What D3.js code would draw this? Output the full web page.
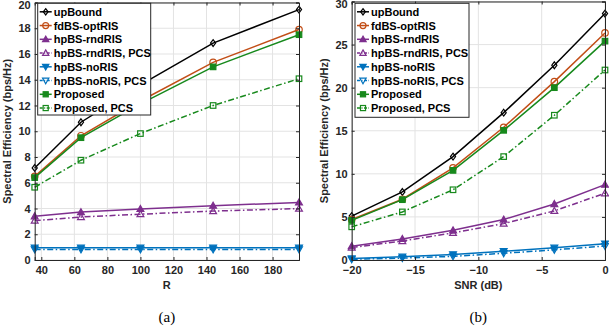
<!DOCTYPE html>
<html><head><meta charset="utf-8">
<script src="https://cdn.jsdelivr.net/npm/d3@7"></script>
<style>body{margin:0;background:#fff}svg{display:block}</style>
</head><body>
<svg id="c" width="609" height="332"></svg>
<script>
// ---- data ----
const seriesNames = ["upBound","fdBS-optRIS","hpBS-rndRIS","hpBS-rndRIS, PCS","hpBS-noRIS","hpBS-noRIS, PCS","Proposed","Proposed, PCS"];
const xR = [36, 64, 100, 144, 196];
const yR_upBound   = [7.15, 10.7, 13.6, 16.85, 19.45];
const yR_fdBS      = [6.5, 9.65, 12.35, 15.35, 17.9];
const yR_rnd       = [3.4, 3.72, 3.97, 4.22, 4.47];
const yR_rndPCS    = [3.06, 3.34, 3.56, 3.8, 3.99];
const yR_noRIS     = [0.95, 0.95, 0.95, 0.95, 0.95];
const yR_noRISPCS  = [0.82, 0.82, 0.82, 0.82, 0.82];
const yR_prop      = [6.4, 9.5, 12.13, 15.0, 17.5];
const yR_propPCS   = [5.65, 7.75, 9.82, 12.0, 14.08];

const xS = [-20, -16, -12, -8, -4, 0];
const yS_upBound   = [5.1, 7.9, 12.0, 17.1, 22.6, 28.6];
const yS_fdBS      = [4.7, 7.05, 10.7, 15.4, 20.7, 26.35];
const yS_rnd       = [1.6, 2.45, 3.45, 4.7, 6.5, 8.75];
const yS_rndPCS    = [1.45, 2.2, 3.15, 4.22, 5.7, 7.75];
const yS_noRIS     = [0.18, 0.38, 0.65, 1.02, 1.42, 1.9];
const yS_noRISPCS  = [0.08, 0.22, 0.42, 0.78, 1.18, 1.62];
const yS_prop      = [4.6, 7.0, 10.4, 15.05, 20.0, 25.4];
const yS_propPCS   = [3.85, 5.58, 8.15, 12.0, 16.8, 22.05];

const xTicksR = [40, 60, 80, 100, 120, 140, 160, 180];
const yTicksR = [0, 2, 4, 6, 8, 10, 12, 14, 16, 18, 20];
const xTicksS = [-20, -15, -10, -5, 0];
const yTicksS = [0, 5, 10, 15, 20, 25, 30];

// ---- styles ----
const styles = [
  {color:"#000000", marker:"diamond", fill:false, dash:null},
  {color:"#C24E17", marker:"circle", fill:false, dash:null},
  {color:"#7E2F8E", marker:"triUp", fill:true, dash:null},
  {color:"#7E2F8E", marker:"triUp", fill:false, dash:"6,2.5,1.5,2.5"},
  {color:"#0072BD", marker:"triDown", fill:true, dash:null},
  {color:"#0072BD", marker:"triDown", fill:false, dash:"6,2.5,1.5,2.5"},
  {color:"#17891C", marker:"square", fill:true, dash:null},
  {color:"#17891C", marker:"square", fill:false, dash:"6,2.5,1.5,2.5"}
];

const svg = d3.select("#c");
const FONT = "'Liberation Sans', Arial, Helvetica, sans-serif";

function marker(g, type, x, y, s, color, fill) {
  let p;
  const r = s/2;
  if (type === "circle") {
    p = g.append("circle").attr("cx", x).attr("cy", y).attr("r", r);
  } else if (type === "square") {
    const h = r*0.85;
    p = g.append("rect").attr("x", x-h).attr("y", y-h).attr("width", 2*h).attr("height", 2*h);
  } else if (type === "diamond") {
    const h = r*1.05;
    p = g.append("path").attr("d", `M${x},${y-h}L${x+h*0.75},${y}L${x},${y+h}L${x-h*0.75},${y}Z`);
  } else if (type === "triUp") {
    const h = r*1.05;
    p = g.append("path").attr("d", `M${x},${y-h}L${x+h},${y+h*0.75}L${x-h},${y+h*0.75}Z`);
  } else if (type === "triDown") {
    const h = r*1.05;
    p = g.append("path").attr("d", `M${x},${y+h}L${x+h},${y-h*0.75}L${x-h},${y-h*0.75}Z`);
  }
  p.attr("stroke", color).attr("stroke-width", 1.2).attr("fill", fill ? color : "none");
}

function panel(opt) {
  const {x0, x1, y0, y1, xDom, yDom, xTicks, yTicks, xs, ys, xLabel, yLabel, yLabelX, caption, legend} = opt;
  const x = d3.scaleLinear().domain(xDom).range([x0, x1]);
  const y = d3.scaleLinear().domain(yDom).range([y1, y0]);
  const g = svg.append("g");
  g.append("rect").attr("x", x0).attr("y", y0).attr("width", x1-x0).attr("height", y1-y0).attr("fill", "#fff");
  // grid
  g.append("g").selectAll("line").data(xTicks).join("line")
    .attr("x1", d=>x(d)).attr("x2", d=>x(d)).attr("y1", y0).attr("y2", y1)
    .attr("stroke", "#e3e3e3").attr("stroke-width", 1);
  g.append("g").selectAll("line").data(yTicks).join("line")
    .attr("y1", d=>y(d)).attr("y2", d=>y(d)).attr("x1", x0).attr("x2", x1)
    .attr("stroke", "#e3e3e3").attr("stroke-width", 1);

  // series
  const line = d3.line().x((d,i)=>x(xs[i])).y(d=>y(d));
  ys.forEach((vals, k) => {
    const st = styles[k];
    g.append("path").datum(vals).attr("d", line).attr("fill", "none")
      .attr("stroke", st.color).attr("stroke-width", 1.5)
      .attr("stroke-dasharray", st.dash);
    vals.forEach((v,i) => marker(g, st.marker, x(xs[i]), y(v), 6.5, st.color, st.fill));
  });

  // axes
  const axB = d3.axisBottom(x).tickValues(xTicks).tickSize(-3).tickPadding(6);
  const axL = d3.axisLeft(y).tickValues(yTicks).tickSize(-3).tickPadding(4);
  const axT = d3.axisTop(x).tickValues(xTicks).tickSize(-3).tickFormat("");
  const axR = d3.axisRight(y).tickValues(yTicks).tickSize(-3).tickFormat("");
  const styleAx = a => {
    a.select(".domain").attr("stroke", "#262626").attr("stroke-width", 1);
    a.selectAll(".tick line").attr("stroke", "#262626");
    a.selectAll("text").attr("fill", "#262626").style("font-family", FONT)
      .style("font-size", "11px").style("font-weight", "bold");
  };
  svg.append("g").attr("transform", `translate(0,${y1})`).call(axB).call(styleAx);
  const gl = svg.append("g").attr("transform", `translate(${x0},0)`).call(axL).call(styleAx);
  // keep the topmost tick label inside the picture
  gl.selectAll(".tick text").filter(d => y(d) < 6).attr("dy", "0.55em");
  svg.append("g").attr("transform", `translate(0,${y0})`).call(axT).call(styleAx);
  svg.append("g").attr("transform", `translate(${x1},0)`).call(axR).call(styleAx);

  // labels
  svg.append("text").attr("x", (x0+x1)/2).attr("y", y1+29).attr("text-anchor", "middle")
    .style("font-family", FONT).style("font-size", "11px").style("font-weight", "bold").attr("fill", "#262626")
    .text(xLabel);
  svg.append("text").attr("transform", `translate(${yLabelX},${(y0+y1)/2}) rotate(-90)`).attr("text-anchor", "middle")
    .style("font-family", FONT).style("font-size", "11px").style("font-weight", "bold").attr("fill", "#262626")
    .text(yLabel);
  svg.append("text").attr("x", (x0+x1)/2).attr("y", 322).attr("text-anchor", "middle")
    .style("font-family", "'Liberation Serif', 'Times New Roman', serif").style("font-size", "15px").attr("fill", "#000")
    .text(caption);

  // legend
  const L = legend;
  const lg = svg.append("g");
  lg.append("rect").attr("x", L.x).attr("y", L.y).attr("width", L.w).attr("height", L.h)
    .attr("fill", "#fff").attr("stroke", "#262626").attr("stroke-width", 1);
  seriesNames.forEach((name, k) => {
    const st = styles[k];
    const cy = L.y + 8.5 + k*13.75;
    lg.append("line").attr("x1", L.x+2).attr("x2", L.x+14).attr("y1", cy).attr("y2", cy)
      .attr("stroke", st.color).attr("stroke-width", 1.5).attr("stroke-dasharray", st.dash ? "3,1.5,1,1.5" : null);
    marker(lg, st.marker, L.x+8, cy, 6, st.color, st.fill);
    lg.append("text").attr("x", L.x+16).attr("y", cy+4)
      .style("font-family", FONT).style("font-size", "11px").style("font-weight", "bold").attr("fill", "#000")
      .text(name);
  });
}

panel({x0:34.7, x1:299, y0:2.5, y1:260, xDom:[36,196], yDom:[0,20], xTicks:xTicksR, yTicks:yTicksR,
  xs:xR, ys:[yR_upBound,yR_fdBS,yR_rnd,yR_rndPCS,yR_noRIS,yR_noRISPCS,yR_prop,yR_propPCS],
  xLabel:"R", yLabel:"Spectral Efficiency (bps/Hz)", yLabelX:11, caption:"(a)",
  legend:{x:37.7, y:3.3, w:113, h:111.7}});

panel({x0:351.7, x1:605, y0:1.5, y1:260, xDom:[-20,0], yDom:[0,30], xTicks:xTicksS, yTicks:yTicksS,
  xs:xS, ys:[yS_upBound,yS_fdBS,yS_rnd,yS_rndPCS,yS_noRIS,yS_noRISPCS,yS_prop,yS_propPCS],
  xLabel:"SNR (dB)", yLabel:"Spectral Efficiency (bps/Hz)", yLabelX:328, caption:"(b)",
  legend:{x:355, y:3.3, w:114, h:114}});
</script>
</body></html>
